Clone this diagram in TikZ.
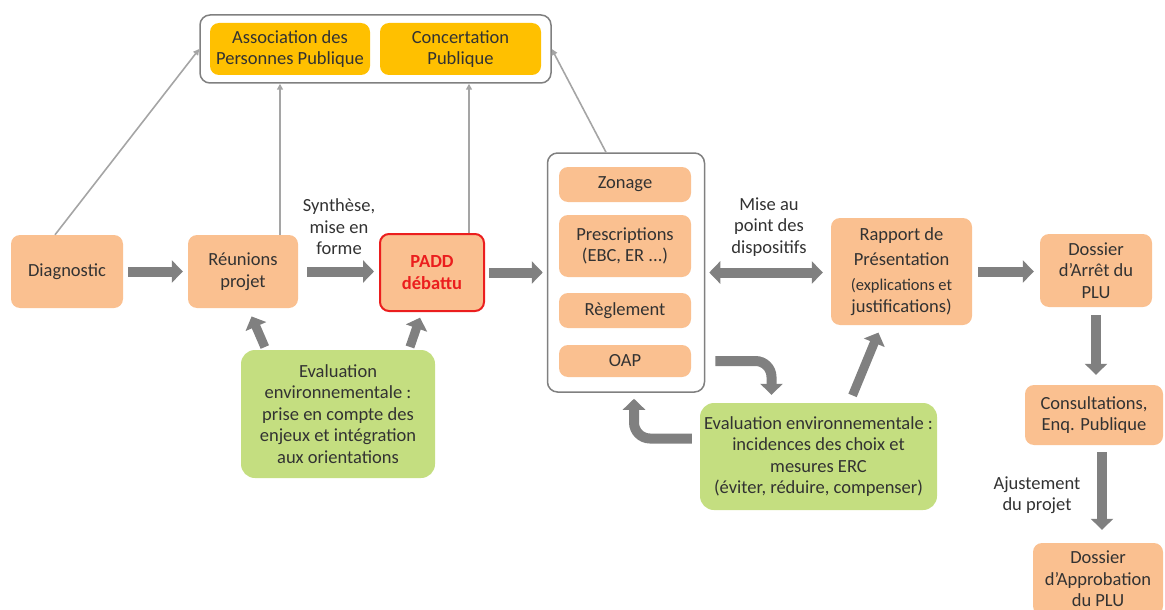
\documentclass[tikz,border=0pt]{standalone}
\usepackage{fontspec}
\setmainfont{Carlito}
\usetikzlibrary{positioning}
\usetikzlibrary{calc}
\usetikzlibrary{arrows.meta}
\definecolor{peach}{RGB}{250,192,144}
\definecolor{gold}{RGB}{255,192,0}
\definecolor{leaf}{RGB}{196,222,128}
\definecolor{txt}{RGB}{50,50,50}
\definecolor{darrow}{RGB}{128,128,128}
\definecolor{larrow}{RGB}{165,165,165}
\definecolor{paddred}{RGB}{235,30,30}

\begin{document}
\begin{tikzpicture}[x=1pt, y=-1pt,
    every node/.style={font=\fontsize{18.5}{21.5}\selectfont, text=txt, align=center, inner sep=0pt},
    box/.style={fill=peach, rounded corners=9pt},
    goldbox/.style={fill=gold, rounded corners=9pt},
    greenbox/.style={fill=leaf, rounded corners=14pt},
    grpbox/.style={draw=darrow, line width=1.5pt, fill=white, rounded corners=10pt},
    bigarrow/.style={darrow, line width=10pt, -{Triangle[length=11pt,width=22pt]}},
    dblarrow/.style={darrow, line width=10pt, {Triangle[length=11pt,width=22pt]}-{Triangle[length=11pt,width=22pt]}},
    lightarrow/.style={larrow, line width=1.6pt, -{Triangle[length=6pt,width=6pt]}}]

    \useasboundingbox (0,0) rectangle (1165,610);

    % top group
    \node[grpbox, minimum width=351pt, minimum height=68pt] (grp) at (375.5,49) {};
    \node[goldbox, minimum width=160pt, minimum height=52pt] (asso) at (290,49) {Association des\\Personnes Publique};
    \node[goldbox, minimum width=161pt, minimum height=52pt] (conc) at (460.5,49) {Concertation\\Publique};

    % main chain
    \node[box, minimum width=112pt, minimum height=73pt] (diag) at (67,271.5) {Diagnostic};
    \node[box, minimum width=110pt, minimum height=73pt] (reun) at (243,271.5) {Réunions\\projet};
    \node[box, draw=paddred, line width=2pt, text=paddred, font={\fontsize{18.5}{21.5}\selectfont\bfseries},
          minimum width=104pt, minimum height=77pt] (padd) at (432,272.5) {PADD\\débattu};

    % dispositifs
    \node[grpbox, minimum width=157pt, minimum height=239pt] (dispo) at (626,272.5) {};
    \node[box, minimum width=132pt, minimum height=35pt] (zon) at (625,184.5) {Zonage};
    \node[box, minimum width=132pt, minimum height=62pt] (presc) at (625,246) {Prescriptions\\(EBC, ER ...)};
    \node[box, minimum width=132pt, minimum height=35pt] (regl) at (625,310.5) {Règlement};
    \node[box, minimum width=132pt, minimum height=32pt] (oap) at (625,361) {OAP};

    \node[box, minimum width=141pt, minimum height=107pt] (rapp) at (901.5,271.5)
        {Rapport de\\[3pt]Présentation\\[4pt]\fontsize{16.5}{20}\selectfont(explications et\\justifications)};
    \node[box, minimum width=112pt, minimum height=73pt] (arret) at (1096,270.5) {Dossier\\d'Arrêt du\\PLU};
    \node[box, minimum width=138pt, minimum height=60pt] (consult) at (1094,415) {Consultations,\\Enq. Publique};
    \node[box, minimum width=130pt, minimum height=72pt] (approb) at (1098,579) {Dossier\\d'Approbation\\du PLU};

    % evaluations
    \node[greenbox, minimum width=194pt, minimum height=128pt] (eval1) at (338,414)
        {Evaluation\\environnementale :\\prise en compte des\\enjeux et intégration\\aux orientations};
    \node[greenbox, minimum width=237pt, minimum height=107pt] (eval2) at (818.5,456.5)
        {Evaluation environnementale :\\incidences des choix et\\mesures ERC\\(éviter, réduire, compenser)};

    % labels
    \node (synth) at (339,227) {Synthèse,\\mise en\\forme};
    \node (misept) at (769,227) {Mise au\\point des\\dispositifs};
    \node (ajust) at (1037,495) {Ajustement\\du projet};

    % thin arrows to the top group
    \coordinate (reunup) at ($(reun.north)+(37,0)$);
    \coordinate (paddup) at ($(padd.north)+(37,0)$);
    \draw[lightarrow] ($(diag.north)+(-12,0)$) -- (grp.west);
    \draw[lightarrow] (reunup) -- (reunup |- grp.south);
    \draw[lightarrow] (paddup) -- (paddup |- grp.south);
    \draw[lightarrow] ($(dispo.north)+(-20,0)$) -- (grp.east);

    % thick arrows
    \coordinate (consultdown) at ($(consult.south)+(8,0)$);
    \draw[bigarrow, shorten <=5pt, shorten >=5pt] (diag) -- (reun);
    \draw[bigarrow, shorten <=9pt, shorten >=5pt] (reun.east) -- (reun.east -| padd.west);
    \draw[bigarrow, shorten <=4pt, shorten >=4pt] (padd.east) -- (padd.east -| dispo.west);
    \draw[dblarrow, shorten <=4pt, shorten >=8pt] (dispo.east) -- (dispo.east -| rapp.west);
    \draw[bigarrow, shorten <=6pt, shorten >=6pt] (rapp.east) -- (rapp.east -| arret.west);
    \draw[bigarrow, shorten <=8pt, shorten >=10pt] (arret.south) -- (arret.south |- consult.north);
    \draw[bigarrow, shorten <=7pt, shorten >=13pt] (consultdown) -- (consultdown |- approb.north);

    \draw[bigarrow, line width=9pt, shorten <=3pt, shorten >=9pt] ($(eval1.north)+(-72,0)$) -- ($(reun.south)+(5,0)$);
    \draw[bigarrow, line width=9pt, shorten <=3pt, shorten >=6pt] ($(eval1.north)+(71,0)$) -- ($(padd.south)+(-10,0)$);
    \draw[bigarrow, line width=9pt, shorten <=8pt, shorten >=8pt] ($(eval2.north)+(31,0)$) -- ($(rapp.south)+(-20,0)$);

    \draw[bigarrow, rounded corners=16pt, shorten >=8pt] ($(dispo.east |- oap.east)+(10,0)$) -| ($(eval2.north)+(-47,0)$);
    \draw[bigarrow, rounded corners=16pt, shorten <=8pt, shorten >=6pt] ($(eval2.west)+(0,-18)$) -| ($(dispo.south)+(8,0)$);
\end{tikzpicture}
\end{document}
